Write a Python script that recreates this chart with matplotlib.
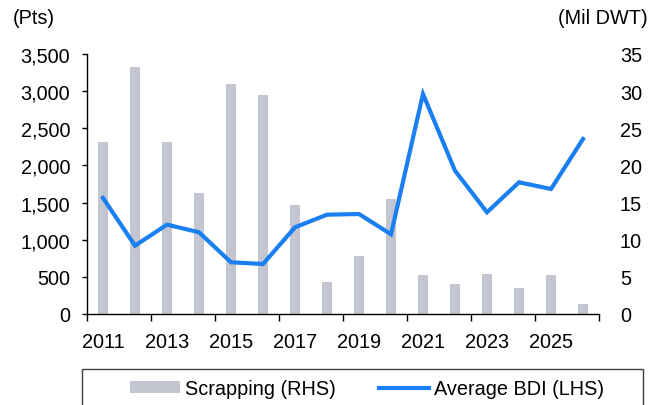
import numpy as np
import matplotlib
matplotlib.use("Agg")
import matplotlib.pyplot as plt
from matplotlib.patches import Rectangle, Patch
from matplotlib.lines import Line2D

plt.rcParams['font.family'] = ['Liberation Sans', 'DejaVu Sans']

# data
years = ["2011", "2012", "2013", "2014", "2015", "2016", "2017", "2018",
         "2019", "2020", "2021", "2022", "2023", "2024", "2025", "2026"]
scrapping = [23.1, 33.2, 23.1, 16.3, 30.9, 29.5, 14.7, 4.3,
             7.8, 15.5, 5.2, 4.0, 5.4, 3.5, 5.2, 1.4]           # Mil DWT (RHS)
avg_bdi = [1562, 920, 1203, 1100, 696, 673, 1167, 1337,
           1346, 1073, 2962, 1929, 1369, 1773, 1683, 2356]      # Pts (LHS)

bar_color = "#c3c5d1"
line_color = "#1a7ff0"
fs = 14.3

fig = plt.figure(figsize=(6.64, 4.06), dpi=100)
ax = fig.add_axes([87 / 664, 1 - 315 / 406, (599 - 87) / 664, (315 - 55) / 406])
ax2 = ax.twinx()

x = np.arange(len(years))
ax2.bar(x, scrapping, width=0.31, color=bar_color)
ax.plot(x, avg_bdi, color=line_color, lw=3.0, solid_joinstyle="miter")

# line above bars
ax.set_zorder(ax2.get_zorder() + 1)
ax.patch.set_visible(False)

ax.set_xlim(-0.5, len(years) - 0.5)
ax.set_ylim(0, 3500)
ax2.set_ylim(0, 35)
ax.set_yticks(np.arange(0, 3501, 500))
ax.set_yticklabels([f"{v:,}" for v in range(0, 3501, 500)])
ax2.set_yticks(np.arange(0, 36, 5))

# tick marks at category boundaries, labels at every other category
ax.set_xticks(np.arange(-0.5, len(years), 2))
ax.set_xticklabels([])
ax.set_xticks(np.arange(0, len(years), 2), minor=True)
ax.set_xticklabels(years[::2], minor=True)
ax.tick_params(axis="x", which="major", length=5, width=1, direction="out")
ax.tick_params(axis="x", which="minor", length=0, pad=13, labelsize=fs)
ax.tick_params(axis="y", length=3.6, width=1, pad=8.5, labelsize=fs)
ax2.tick_params(axis="y", length=0, pad=15, labelsize=fs)

for a in (ax, ax2):
    a.spines["top"].set_visible(False)
    a.spines["right"].set_visible(False)
ax2.spines["left"].set_visible(False)
ax2.spines["bottom"].set_visible(False)
ax.spines["left"].set_linewidth(1)
ax.spines["bottom"].set_linewidth(1)

fig.text(13 / 664, 1 - 18 / 406, "(Pts)", fontsize=fs, ha="left", va="center")
fig.text(648 / 664, 1 - 18 / 406, "(Mil DWT)", fontsize=fs, ha="right", va="center")

# legend box (bottom edge is cut off in the reference)
fig.patches.append(Rectangle((82 / 664, -0.05), (643 - 82) / 664, 0.05 + 1 - 370 / 406,
                             transform=fig.transFigure, fill=False,
                             edgecolor="#404040", lw=1))
handles = [Patch(facecolor=bar_color, edgecolor="none"),
           Line2D([0], [0], color=line_color, lw=3.0)]
fig.legend(handles, ["Scrapping (RHS)", "Average BDI (LHS)"], ncol=2,
           loc="center", bbox_to_anchor=(367 / 664, 1 - 390 / 406),
           frameon=False, fontsize=fs, handlelength=2.5, handleheight=0.55,
           handletextpad=0.25, columnspacing=2.2, borderpad=0)

fig.savefig("out.png", dpi=100)
